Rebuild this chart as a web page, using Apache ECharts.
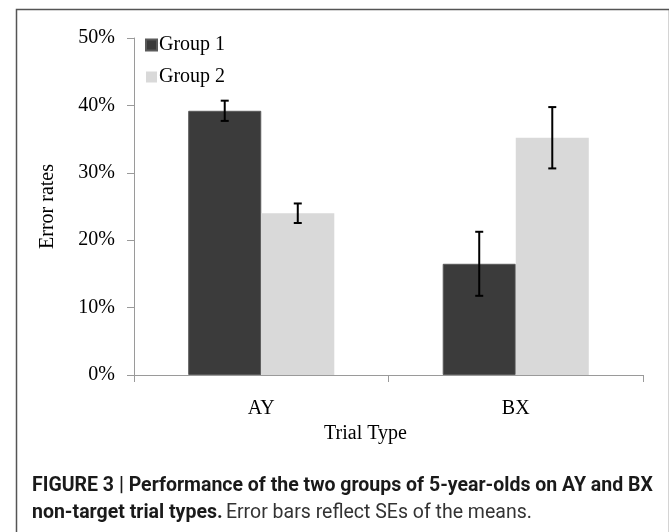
<!DOCTYPE html>
<html>
<head>
<meta charset="utf-8">
<script src="https://cdn.jsdelivr.net/npm/echarts@6/dist/echarts.min.js"></script>
<style>
html,body{margin:0;padding:0;background:#fff;}
#chart{width:669px;height:532px;}
</style>
</head>
<body>
<div id="chart"></div>
<script>
var categories = ['AY', 'BX'];
var seriesNames = ['Group 1', 'Group 2'];
var group1 = [39.2, 16.5];
var group2 = [24.0, 35.2];
var group1Err = [1.5, 4.75];
var group2Err = [1.45, 4.55];
var yTicks = [0, 10, 20, 30, 40, 50];

var chart = echarts.init(document.getElementById('chart'), null, {renderer: 'canvas'});
var serif = '"Liberation Serif", "Times New Roman", serif';
var sans = '"Roboto", "Liberation Sans", sans-serif';
var BAR_FRAC = 0.287;

function errSeries(vals, errs, side) {
  return {
    type: 'custom',
    silent: true,
    z: 10,
    data: vals.map(function (v, i) { return [i, v, errs[i]]; }),
    renderItem: function (params, api) {
      var i = api.value(0), v = api.value(1), e = api.value(2);
      var band = api.size([1, 0])[0];
      var bw = band * BAR_FRAC;
      var c = api.coord([i, v]);
      var x = c[0] + side * bw / 2;
      var yTop = api.coord([i, v + e])[1];
      var yBot = api.coord([i, v - e])[1];
      var cap = 4;
      var st = {stroke: '#000', lineWidth: 2};
      return {
        type: 'group',
        children: [
          {type: 'line', shape: {x1: x, y1: yTop, x2: x, y2: yBot}, style: st},
          {type: 'line', shape: {x1: x - cap, y1: yTop, x2: x + cap, y2: yTop}, style: st},
          {type: 'line', shape: {x1: x - cap, y1: yBot, x2: x + cap, y2: yBot}, style: st}
        ]
      };
    }
  };
}

var option = {
  animation: false,
  backgroundColor: '#fff',
  grid: {left: 134, right: 26, top: 38, bottom: 157, containLabel: false},
  legend: {
    orient: 'vertical',
    left: 140,
    top: 30,
    icon: 'rect',
    itemWidth: 11,
    itemHeight: 11,
    itemGap: 12,
    data: seriesNames,
    textStyle: {fontFamily: serif, fontSize: 20, color: '#000', padding: [0, 0, 0, -3]}
  },
  xAxis: {
    type: 'category',
    data: categories,
    axisLine: {lineStyle: {color: '#9a9a9a', width: 1}},
    axisTick: {show: true, length: 7, lineStyle: {color: '#9a9a9a'}},
    axisLabel: {fontFamily: serif, fontSize: 20, color: '#000', margin: 24},
    name: 'Trial Type',
    nameLocation: 'middle',
    nameGap: 43,
    nameTextStyle: {fontFamily: serif, fontSize: 20, color: '#000', padding: [0, 46, 0, 0]}
  },
  yAxis: {
    type: 'value',
    min: 0,
    max: 50,
    interval: 10,
    splitLine: {show: false},
    axisLine: {show: true, lineStyle: {color: '#9a9a9a', width: 1}},
    axisTick: {show: true, length: 7, lineStyle: {color: '#9a9a9a'}},
    axisLabel: {fontFamily: serif, fontSize: 20, color: '#000', margin: 19,
      formatter: function (v) { return yTicks.indexOf(v) >= 0 ? v + '%' : ''; }},
    name: 'Error rates',
    nameLocation: 'middle',
    nameGap: 76,
    nameRotate: 90,
    nameTextStyle: {fontFamily: serif, fontSize: 20, color: '#000'}
  },
  series: [
    {
      name: seriesNames[0], type: 'bar', data: group1,
      barWidth: (BAR_FRAC * 100) + '%', barGap: '0%',
      itemStyle: {color: '#3b3b3b', borderColor: '#5a5a5a', borderWidth: 1}
    },
    {
      name: seriesNames[1], type: 'bar', data: group2,
      barWidth: (BAR_FRAC * 100) + '%', barGap: '0%',
      itemStyle: {color: '#d9d9d9'}
    },
    errSeries(group1, group1Err, -1),
    errSeries(group2, group2Err, 1)
  ],
  graphic: [
    {type: 'rect', left: 14, top: 7, shape: {width: 653, height: 540},
      style: {fill: 'none', stroke: '#555', lineWidth: 1.5}, silent: true, z: -1},
    {type: 'text', left: 32, top: 476,
      style: {text: 'FIGURE 3 | Performance of the two groups of 5-year-olds on AY and BX',
        font: 'bold 19.5px ' + sans, fill: '#1a1a1a'}},
    {type: 'text', left: 32, top: 503,
      style: {
        text: '{b|non-target trial types.} {r|Error bars reflect SEs of the means.}',
        rich: {
          b: {font: 'bold 19.5px ' + sans, fill: '#1a1a1a'},
          r: {font: '19.5px ' + sans, fill: '#333'}
        }
      }}
  ]
};
chart.setOption(option);
</script>
</body>
</html>
